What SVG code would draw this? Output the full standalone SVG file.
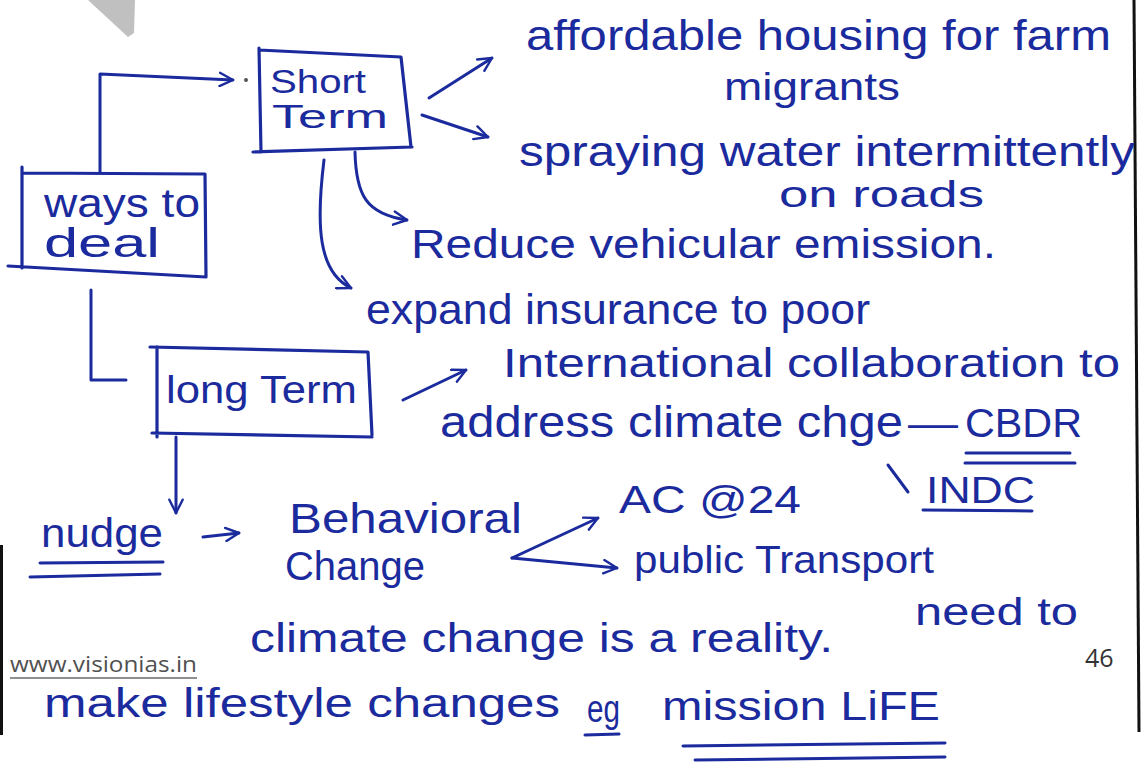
<svg xmlns="http://www.w3.org/2000/svg" width="1148" height="774" viewBox="0 0 1148 774">
<defs>
<style>
.ink{fill:#1b2b9d;font-family:"Liberation Sans",Arial,sans-serif;}
.ln{fill:none;stroke:#1b2b9d;stroke-width:3;stroke-linecap:round;stroke-linejoin:round;}
.box{fill:none;stroke:#1b2b9d;stroke-width:3.2;stroke-linecap:round;stroke-linejoin:round;}
.ul{fill:none;stroke:#1b2b9d;stroke-width:3;stroke-linecap:round;}
.print{font-family:"Open Sans","Liberation Sans",sans-serif;}
</style>
<marker id="ah" viewBox="0 0 12 12" refX="11" refY="6" markerWidth="16" markerHeight="16" markerUnits="userSpaceOnUse" orient="auto">
<path d="M1,1 L11,6 L1,11" fill="none" stroke="#1b2b9d" stroke-width="1.8" stroke-linecap="round" stroke-linejoin="round"/>
</marker>
</defs>
<rect width="1148" height="774" fill="#ffffff"/>
<polygon points="88,0 135,0 134,33 128,37" fill="#c0c0c0"/>
<line x1="1134" y1="0" x2="1139" y2="732" stroke="#111" stroke-width="3"/>
<line x1="1.5" y1="545" x2="1.5" y2="735" stroke="#111" stroke-width="3"/>

<g id="page-footer">
<text class="print" x="10" y="672" font-size="21" fill="#505050" textLength="187" lengthAdjust="spacingAndGlyphs">www.visionias.in</text>
<line x1="10" y1="678" x2="197" y2="678" stroke="#6a6a6a" stroke-width="1.5"/>
<text class="print" x="1085" y="667" font-size="25" fill="#333333">46</text>
</g>

<g id="ways-to-deal">
<path class="box" d="M22,167 L22,268 M8,266 L206,277 M22,173 L205,174 L206,277"/>
<text class="ink" x="44" y="217" font-size="40" textLength="156" lengthAdjust="spacingAndGlyphs">ways to</text>
<text class="ink" x="44" y="257" font-size="40" textLength="116" lengthAdjust="spacingAndGlyphs">deal</text>
</g>

<g id="short-term">
<path class="box" d="M259,48 L261,152 M253,152 L412,147 M259,50 L401,57 L411,147"/>
<text class="ink" x="270" y="93" font-size="34" textLength="96" lengthAdjust="spacingAndGlyphs">Short</text>
<text class="ink" x="272" y="128" font-size="34" textLength="116" lengthAdjust="spacingAndGlyphs">Term</text>
</g>

<g id="long-term">
<path class="box" d="M150,347 L368,352 L372,435 M157,347 L157,437 M152,433 L372,437"/>
<text class="ink" x="166" y="403" font-size="38" textLength="191" lengthAdjust="spacingAndGlyphs">long Term</text>
</g>

<g id="affordable-housing">
<text class="ink" x="526" y="50" font-size="42" textLength="585" lengthAdjust="spacingAndGlyphs">affordable housing for farm</text>
<text class="ink" x="724" y="100" font-size="38" textLength="176" lengthAdjust="spacingAndGlyphs">migrants</text>
</g>

<g id="spraying-water">
<text class="ink" x="519" y="166" font-size="42" textLength="616" lengthAdjust="spacingAndGlyphs">spraying water intermittently</text>
<text class="ink" x="779" y="207" font-size="36" textLength="205" lengthAdjust="spacingAndGlyphs">on roads</text>
</g>

<g id="reduce-emission">
<text class="ink" x="411" y="258" font-size="40" textLength="585" lengthAdjust="spacingAndGlyphs">Reduce vehicular emission.</text>
</g>

<g id="expand-insurance">
<text class="ink" x="366" y="324" font-size="42" textLength="504" lengthAdjust="spacingAndGlyphs">expand insurance to poor</text>
</g>

<g id="international-collaboration">
<text class="ink" x="503" y="377" font-size="40" textLength="617" lengthAdjust="spacingAndGlyphs">International collaboration to</text>
<text class="ink" x="440" y="437" font-size="44" textLength="463" lengthAdjust="spacingAndGlyphs">address climate chge</text>
<text class="ink" x="908" y="437" font-size="40" textLength="50" lengthAdjust="spacingAndGlyphs">—</text>
</g>

<g id="cbdr">
<text class="ink" x="965" y="437" font-size="40" textLength="117" lengthAdjust="spacingAndGlyphs">CBDR</text>
<path class="ul" d="M966,453 L1070,453 M965,463 L1075,463"/>
</g>

<g id="indc">
<text class="ink" x="926" y="503" font-size="36" textLength="109" lengthAdjust="spacingAndGlyphs">INDC</text>
<path class="ul" d="M923,510 L1032,511"/>
</g>

<g id="nudge">
<text class="ink" x="41" y="547" font-size="40" textLength="122" lengthAdjust="spacingAndGlyphs">nudge</text>
<path class="ul" d="M40,563 L163,562 M30,577 L160,574"/>
</g>

<g id="behavioral-change">
<text class="ink" x="289" y="533" font-size="42" textLength="233" lengthAdjust="spacingAndGlyphs">Behavioral</text>
<text class="ink" x="285" y="580" font-size="40" textLength="140" lengthAdjust="spacingAndGlyphs">Change</text>
</g>

<g id="ac-24">
<text class="ink" x="619" y="513" font-size="38" textLength="182" lengthAdjust="spacingAndGlyphs">AC @24</text>
</g>

<g id="public-transport">
<text class="ink" x="634" y="573" font-size="38" textLength="300" lengthAdjust="spacingAndGlyphs">public Transport</text>
</g>

<g id="climate-reality">
<text class="ink" x="915" y="625" font-size="38" textLength="163" lengthAdjust="spacingAndGlyphs">need to</text>
<text class="ink" x="250" y="652" font-size="40" textLength="583" lengthAdjust="spacingAndGlyphs">climate change is a reality.</text>
<text class="ink" x="44" y="717" font-size="40" textLength="516" lengthAdjust="spacingAndGlyphs">make lifestyle changes</text>
<text class="ink" x="587" y="722" font-size="38" textLength="33" lengthAdjust="spacingAndGlyphs">eg</text>
<path class="ul" d="M585,735 L619,734"/>
<text class="ink" x="662" y="720" font-size="40" textLength="278" lengthAdjust="spacingAndGlyphs">mission LiFE</text>
<path class="ul" d="M683,746 L945,743 M695,760 L945,757"/>
</g>

<g id="connectors">
<path class="ln" d="M100,172 L100,74 L233,80" marker-end="url(#ah)"/>
<circle cx="246" cy="80" r="2" fill="#555"/>
<path class="ln" d="M429,98 L492,58" marker-end="url(#ah)"/>
<path class="ln" d="M422,115 L488,137" marker-end="url(#ah)"/>
<path class="ln" d="M355,152 C356,195 366,214 407,220" marker-end="url(#ah)"/>
<path class="ln" d="M324,160 C316,225 318,272 351,288" marker-end="url(#ah)"/>
<path class="ln" d="M91,290 L91,380 L126,380"/>
<path class="ln" d="M403,400 L466,370" marker-end="url(#ah)"/>
<path class="ln" d="M176,437 L176,513" marker-end="url(#ah)"/>
<path class="ln" d="M203,537 L239,533" marker-end="url(#ah)"/>
<path class="ln" d="M512,558 L598,518" marker-end="url(#ah)"/>
<path class="ln" d="M512,558 L617,568" marker-end="url(#ah)"/>
<path class="ln" d="M888,465 L908,492"/>
</g>
</svg>
